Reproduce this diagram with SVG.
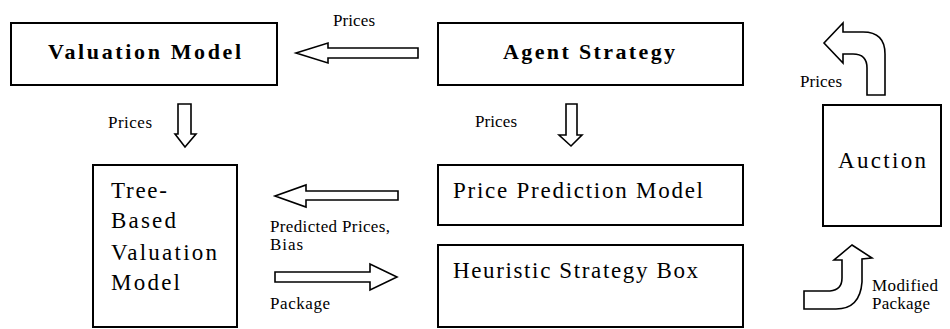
<svg xmlns="http://www.w3.org/2000/svg" width="950" height="329" viewBox="0 0 950 329">
<style>
.box{fill:#fff;stroke:#000;stroke-width:2}
.arr{fill:#fff;stroke:#000;stroke-width:1.6;stroke-linejoin:miter}
.t{font-size:23px}
.tb{font-size:22px;font-weight:bold}
.lb{font-size:17px}
</style>
<rect width="950" height="329" fill="#fff"/>
<g font-family="Liberation Serif" fill="#000">
<g id="valuation-model">
<rect class="box" x="11" y="23" width="266" height="62"/>
<text class="tb" x="48" y="59" textLength="193" lengthAdjust="spacing">Valuation Model</text>
</g>
<g id="agent-strategy">
<rect class="box" x="438" y="23" width="305" height="62"/>
<text class="tb" x="503" y="59" textLength="172" lengthAdjust="spacing">Agent Strategy</text>
</g>
<g id="tree-based-valuation-model">
<rect class="box" x="93" y="165" width="144" height="162"/>
<text class="t" x="111" y="198" textLength="56" lengthAdjust="spacing">Tree-</text>
<text class="t" x="111" y="228" textLength="65" lengthAdjust="spacing">Based</text>
<text class="t" x="111" y="260" textLength="106" lengthAdjust="spacing">Valuation</text>
<text class="t" x="111" y="290" textLength="69" lengthAdjust="spacing">Model</text>
</g>
<g id="price-prediction-model">
<rect class="box" x="438" y="165" width="305" height="60"/>
<text class="t" x="453" y="198" textLength="250" lengthAdjust="spacing">Price Prediction Model</text>
</g>
<g id="heuristic-strategy-box">
<rect class="box" x="438" y="245" width="305" height="82"/>
<text class="t" x="453" y="278" textLength="245" lengthAdjust="spacing">Heuristic Strategy Box</text>
</g>
<g id="auction">
<rect class="box" x="823" y="105" width="118" height="121"/>
<text class="t" x="838" y="168" textLength="88" lengthAdjust="spacing">Auction</text>
</g>
<g id="connectors">
<path class="arr" d="M418 48 L328 48 L328 43 L296 53 L328 63 L328 58 L418 58 Z"/>
<text class="lb" x="333" y="26" textLength="42" lengthAdjust="spacing">Prices</text>
<path class="arr" d="M178 104 L191 104 L191 134 L196 134 L185 147 L175 134 L178 134 Z"/>
<text class="lb" x="108" y="128" textLength="44" lengthAdjust="spacing">Prices</text>
<path class="arr" d="M566 104 L577 104 L577 135 L582 135 L571 146 L559 135 L566 135 Z"/>
<text class="lb" x="475" y="127" textLength="42" lengthAdjust="spacing">Prices</text>
<path class="arr" d="M398 191 L306 191 L306 185 L275 196 L306 207 L306 200 L398 200 Z"/>
<text class="lb" x="270" y="232" textLength="120" lengthAdjust="spacing">Predicted Prices,</text>
<text class="lb" x="270" y="250" textLength="33" lengthAdjust="spacing">Bias</text>
<path class="arr" d="M275 272 L370 272 L370 264 L397 277 L370 290 L370 282 L275 282 Z"/>
<text class="lb" x="270" y="309" textLength="60" lengthAdjust="spacing">Package</text>
<path class="arr" d="M867 95 L867 68 Q867 54 853 54 L843 54 L843 63 L824 43 L843 23 L843 32 L863 32 Q885 32 885 54 L885 95 Z"/>
<text class="lb" x="800" y="87" textLength="42" lengthAdjust="spacing">Prices</text>
<path class="arr" d="M852 245 L872 258 L862 259 L862 282 Q860 309 836 309 L804 309 L804 291 L830 291 Q842 290 842 278 L842 260 L834 260 Z"/>
<text class="lb" x="872" y="291" textLength="66" lengthAdjust="spacing">Modified</text>
<text class="lb" x="872" y="309" textLength="58" lengthAdjust="spacing">Package</text>
</g>
</g>
</svg>
